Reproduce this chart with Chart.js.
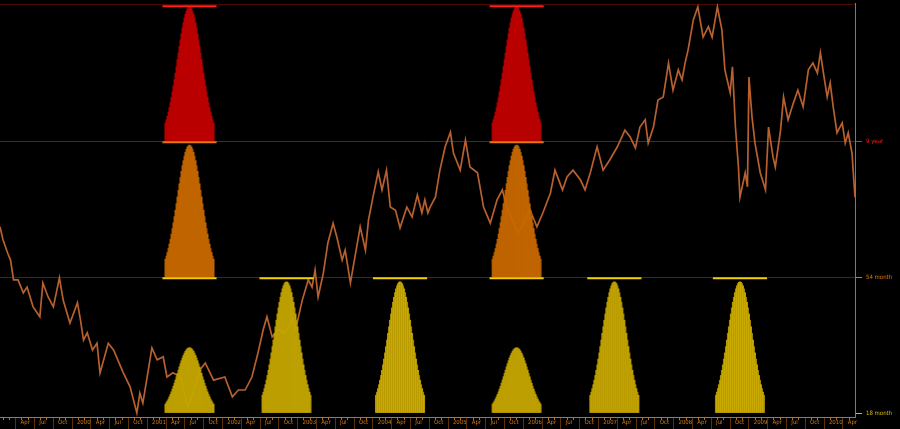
<!DOCTYPE html>
<html lang="en">
<head>
<meta charset="UTF-8">
<title>Cycle bells</title>
<script src="https://cdn.jsdelivr.net/npm/chart.js"></script>
<style>
  html, body { margin: 0; padding: 0; background: #000; }
  canvas { display: block; }
</style>
</head>
<body>
<canvas id="c" width="900" height="429"></canvas>
<script>
  // price series (decimal year, value)
  const priceYears = [
    1999.00,1999.04,1999.10,1999.14,1999.18,1999.24,1999.31,1999.36,1999.44,1999.53,
    1999.57,1999.64,1999.71,1999.79,1999.84,1999.93,2000.03,2000.07,2000.11,2000.16,
    2000.23,2000.29,2000.33,2000.44,2000.51,2000.64,2000.73,2000.82,2000.86,2000.90,
    2001.02,2001.09,2001.17,2001.22,2001.30,2001.40,2001.50,2001.66,2001.73,2001.84,
    2001.99,2002.09,2002.17,2002.26,2002.35,2002.43,2002.50,2002.55,2002.62,2002.70,
    2002.79,2002.89,2002.93,2003.02,2003.10,2003.15,2003.19,2003.23,2003.30,2003.36,
    2003.43,2003.48,2003.55,2003.59,2003.66,2003.72,2003.79,2003.86,2003.90,2003.96,
    2004.03,2004.08,2004.14,2004.19,2004.26,2004.32,2004.41,2004.48,2004.55,2004.61,
    2004.65,2004.69,2004.72,2004.79,2004.85,2004.92,2004.99,2005.03,2005.12,2005.19,
    2005.25,2005.35,2005.43,2005.52,2005.61,2005.68,2005.74,2005.89,2006.05,2006.14,
    2006.22,2006.32,2006.38,2006.48,2006.54,2006.62,2006.72,2006.78,2006.85,2006.94,
    2007.02,2007.11,2007.21,2007.31,2007.38,2007.45,2007.51,2007.58,2007.62,2007.69,
    2007.75,2007.82,2007.89,2007.95,2008.02,2008.07,2008.11,2008.15,2008.22,2008.28,
    2008.35,2008.42,2008.47,2008.54,2008.60,2008.64,2008.71,2008.74,2008.78,2008.82,
    2008.84,2008.91,2008.94,2008.96,2009.00,2009.04,2009.11,2009.18,2009.22,2009.28,
    2009.31,2009.38,2009.42,2009.48,2009.55,2009.61,2009.68,2009.75,2009.81,2009.87,
    2009.91,2009.95,2010.00,2010.04,2010.08,2010.13,2010.20,2010.24,2010.28,2010.33,
    2010.37
  ];
  const priceValues = [
    1.181,1.156,1.131,1.117,1.079,1.079,1.054,1.065,1.027,1.008,
    1.073,1.046,1.027,1.083,1.040,0.996,1.035,1.002,0.963,0.977,
    0.944,0.957,0.900,0.957,0.944,0.900,0.873,0.823,0.861,0.842,
    0.948,0.925,0.931,0.892,0.900,0.892,0.834,0.906,0.919,0.886,
    0.892,0.854,0.867,0.867,0.892,0.938,0.983,1.008,0.969,0.983,
    0.977,1.002,0.983,1.040,1.079,1.065,1.098,1.046,1.092,1.150,
    1.188,1.161,1.117,1.136,1.073,1.123,1.181,1.136,1.194,1.238,
    1.287,1.252,1.290,1.219,1.213,1.179,1.219,1.200,1.242,1.208,
    1.233,1.208,1.219,1.238,1.290,1.335,1.363,1.323,1.290,1.348,
    1.296,1.285,1.219,1.188,1.233,1.252,1.219,1.169,1.213,1.181,
    1.208,1.246,1.290,1.252,1.277,1.290,1.271,1.252,1.285,1.335,
    1.290,1.310,1.335,1.367,1.354,1.333,1.373,1.387,1.342,1.373,
    1.425,1.431,1.496,1.444,1.483,1.464,1.496,1.521,1.579,1.604,
    1.546,1.566,1.546,1.604,1.560,1.483,1.439,1.489,1.373,1.296,
    1.238,1.285,1.258,1.469,1.393,1.342,1.285,1.252,1.373,1.315,
    1.296,1.367,1.431,1.387,1.419,1.444,1.412,1.483,1.496,1.477,
    1.516,1.477,1.431,1.458,1.412,1.362,1.381,1.342,1.362,1.323,
    1.238
  ];

  // bell shape (share of the peak for each bar, left to right)
  const bellProfile = [
    0.135,0.159,0.186,0.216,0.250,0.286,0.325,0.367,0.411,0.458,0.506,0.556,0.607,
    0.657,0.707,0.755,0.801,0.844,0.882,0.917,0.946,0.969,0.986,0.996,1,
    0.996,0.986,0.969,0.946,0.917,0.882,0.844,0.801,0.755,0.707,0.657,
    0.607,0.556,0.506,0.458,0.411,0.367,0.325,0.286,0.250,0.216,0.186,0.159,0.135
  ];
  const barStep = 0.0133;     // years between bars
  const windowHalf = 0.36;    // half width of the window line, years

  const nineYearCenters  = [2001.52, 2005.87];
  const nineYearPeaks    = [0.985, 0.985];
  const fiftyFourCenters = [2001.52, 2005.87];
  const fiftyFourPeaks   = [0.97, 0.97];
  const eighteenCenters  = [2001.52, 2002.81, 2004.32, 2005.87, 2007.17, 2008.84];
  const eighteenPeaks    = [0.48, 0.965, 0.965, 0.48, 0.965, 0.965];

  const rowLabels = ['18 month', '54 month', '9 year', ''];
  const rowColors = ['#d6bc00', '#e07810', '#ff1c1c', 'rgba(0,0,0,0)'];
  const rowGrid   = ['rgba(0,0,0,0)', '#3c2c0a', '#5e2606', '#4a0a00'];
  const monthNames = ['', '', '', 'Apr', '', '', 'Jul', '', '', 'Oct', '', ''];

  const xMin = 1999.0, xMax = 2010.37;
  const labelFont = { family: "'Liberation Sans Narrow', 'DejaVu Sans Condensed', 'Liberation Sans', sans-serif", size: 6 };
  const NONE = 'rgba(0,0,0,0)';

  function bellBars(row, centers, peaks) {
    const mid = (bellProfile.length - 1) / 2;
    const pts = [];
    centers.forEach((c, k) => {
      bellProfile.forEach((f, i) => {
        pts.push({ x: c + (i - mid) * barStep, y: [row, row + peaks[k] * f] });
      });
    });
    return pts;
  }

  function windowLine(row, centers) {
    const pts = [];
    centers.forEach(c => {
      pts.push({ x: c - windowHalf, y: row + 0.99 });
      pts.push({ x: c + windowHalf, y: row + 0.99 });
      pts.push({ x: c + windowHalf + 0.01, y: null });
    });
    return pts;
  }

  function monthTicks(scale) {
    const t = [];
    for (let y = 1999; y <= 2010; y++) {
      for (let m = 0; m < 12; m++) {
        const v = y + m / 12;
        if (v >= xMin && v <= xMax) t.push({ value: v });
      }
    }
    scale.ticks = t;
  }
  const monthOf = v => Math.round((v - Math.floor(v + 1e-6)) * 12) % 12;
  const isQuarter = v => monthOf(v) % 3 === 0;
  const tickVal = ctx => (ctx && ctx.tick) ? ctx.tick.value : null;
  const rowPick = (arr, ctx) => (ctx && ctx.tick && arr[ctx.index] !== undefined) ? arr[ctx.index] : NONE;

  function barSet(row, centers, peaks, fill, edge) {
    return {
      type: 'bar', yAxisID: 'yb', xAxisID: 'x', order: 1,
      data: bellBars(row, centers, peaks),
      backgroundColor: ctx => (ctx.dataIndex % 2 ? edge : fill),
      borderWidth: 0, barThickness: 1.4, grouped: false
    };
  }
  function lineSet(row, centers, color) {
    return {
      type: 'line', yAxisID: 'yb', xAxisID: 'x', order: 0,
      data: windowLine(row, centers),
      borderColor: color, borderWidth: 2, pointRadius: 0, spanGaps: false
    };
  }

  new Chart(document.getElementById('c'), {
    type: 'bar',
    data: {
      datasets: [
        { type: 'line', yAxisID: 'yp', xAxisID: 'x', order: 3,
          data: priceYears.map((x, i) => ({ x, y: priceValues[i] })),
          borderColor: '#b8602f', borderWidth: 1.7, pointRadius: 0, tension: 0 },
        barSet(2, nineYearCenters, nineYearPeaks, 'rgba(206,0,0,0.86)', 'rgba(182,0,0,0.86)'),
        barSet(1, fiftyFourCenters, fiftyFourPeaks, 'rgba(212,112,0,0.86)', 'rgba(190,98,0,0.86)'),
        barSet(0, eighteenCenters, eighteenPeaks, 'rgba(208,176,0,0.86)', 'rgba(186,156,0,0.86)'),
        lineSet(2, nineYearCenters, '#ff1c1c'),
        lineSet(1, fiftyFourCenters, '#e07810'),
        lineSet(0, eighteenCenters, '#f0d000')
      ]
    },
    options: {
      responsive: false,
      animation: false,
      layout: { padding: { top: 3, left: 0, right: 0, bottom: 0 } },
      plugins: { legend: { display: false }, tooltip: { enabled: false } },
      scales: {
        xm: {
          type: 'linear', position: 'bottom', min: xMin, max: xMax, offset: false, weight: 0,
          afterBuildTicks: monthTicks,
          afterFit: s => { s.height = 3; s.paddingLeft = 0; s.paddingRight = 0; },
          grid: { drawOnChartArea: false, tickLength: 3,
                  tickColor: ctx => { const v = tickVal(ctx); return v === null ? NONE : (isQuarter(v) ? '#5a3206' : '#c8700e'); } },
          border: { display: true, color: '#c8700e', width: 1 },
          ticks: { display: false }
        },
        x: {
          type: 'linear', position: 'bottom', min: xMin, max: xMax, offset: false, weight: 1,
          afterBuildTicks: monthTicks,
          afterFit: s => { s.height = 9; s.paddingLeft = 0; s.paddingRight = 0; },
          grid: { drawOnChartArea: false, tickLength: 9,
                  tickColor: ctx => { const v = tickVal(ctx); return (v !== null && isQuarter(v)) ? '#5a3206' : NONE; } },
          border: { display: false },
          ticks: {
            autoSkip: false, maxRotation: 0, minRotation: 0, align: 'start', padding: -10,
            color: '#d27a12', font: labelFont,
            callback: v => {
              if (v <= xMin + 1e-6) return '';
              const m = monthOf(v);
              return m === 0 ? ' ' + Math.round(v) : (monthNames[m] ? ' ' + monthNames[m] : '');
            }
          }
        },
        yb: {
          type: 'linear', position: 'right', min: -0.0294, max: 3.0147,
          afterBuildTicks: s => { s.ticks = rowLabels.map((_, i) => ({ value: i })); },
          afterFit: s => { s.width = 45; s.paddingTop = 0; s.paddingBottom = 0; },
          grid: { color: ctx => rowPick(rowGrid, ctx), tickColor: ctx => rowPick(rowColors, ctx), tickLength: 7 },
          border: { display: true, color: '#c8641a', width: 1 },
          ticks: { color: ctx => rowPick(rowColors, ctx), padding: 4, font: labelFont,
                   callback: (v, i) => rowLabels[i] }
        },
        yp: { type: 'linear', display: false, min: 0.8151, max: 1.6116 }
      }
    }
  });
</script>
</body>
</html>
